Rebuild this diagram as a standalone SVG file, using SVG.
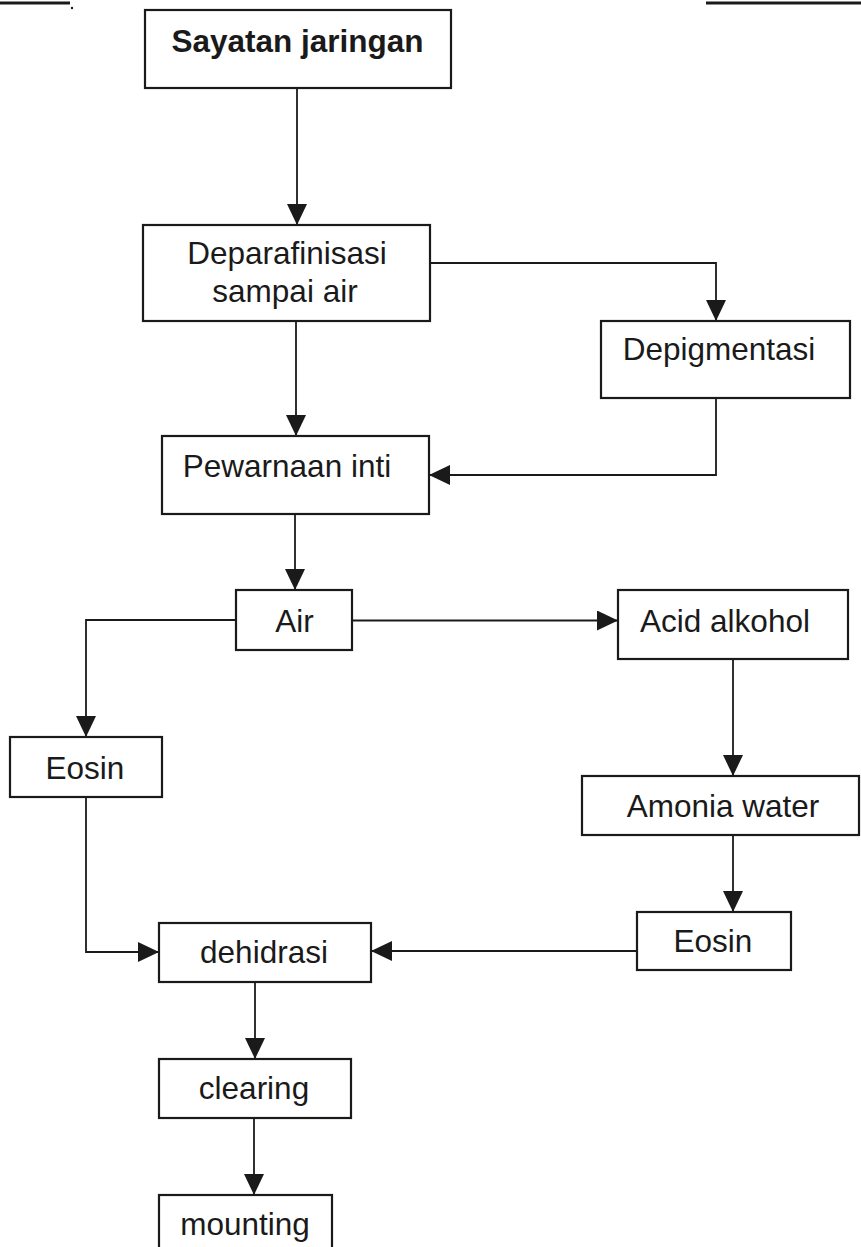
<svg xmlns="http://www.w3.org/2000/svg" width="861" height="1247" viewBox="0 0 861 1247">
<style>
.box{fill:#fff;stroke:#1a1a1a;stroke-width:2.2}
.lbl{font-family:"Liberation Sans",Arial,sans-serif;font-size:31.5px;fill:#1a1a1a;text-anchor:middle}
.bold{font-weight:bold}
.con{fill:none;stroke:#1a1a1a;stroke-width:1.8}
.rule{stroke:#1a1a1a;stroke-width:3}
</style>
<defs>
<marker id="arr" markerUnits="userSpaceOnUse" viewBox="0 0 21 20" markerWidth="21" markerHeight="20" refX="21" refY="10" orient="auto">
<path d="M0,0 L21,10 L0,20 z" fill="#1a1a1a"/>
</marker>
</defs>
<rect width="861" height="1247" fill="#fff"/>
<g id="page-rules">
<line class="rule" x1="0" y1="3" x2="70" y2="3"/>
<circle cx="72" cy="8" r="1.2" fill="#1a1a1a"/>
<line class="rule" x1="706" y1="3" x2="861" y2="3"/>
</g>
<g id="connectors">
<path class="con" d="M297,88 V225" marker-end="url(#arr)"/>
<path class="con" d="M296,321 V436" marker-end="url(#arr)"/>
<path class="con" d="M430,263 H716 V321" marker-end="url(#arr)"/>
<path class="con" d="M716,398 V475 H429" marker-end="url(#arr)"/>
<path class="con" d="M295,514 V590" marker-end="url(#arr)"/>
<path class="con" d="M352,620.5 H618" marker-end="url(#arr)"/>
<path class="con" d="M236,620 H86 V737" marker-end="url(#arr)"/>
<path class="con" d="M733,659 V776" marker-end="url(#arr)"/>
<path class="con" d="M733,835 V912" marker-end="url(#arr)"/>
<path class="con" d="M86,797 V952 H159" marker-end="url(#arr)"/>
<path class="con" d="M637,951 H371" marker-end="url(#arr)"/>
<path class="con" d="M255,982 V1059" marker-end="url(#arr)"/>
<path class="con" d="M254,1118 V1195" marker-end="url(#arr)"/>
</g>
<g id="n-sayatan">
<rect class="box" x="145" y="10" width="306" height="78"/>
<text class="lbl bold" x="297.5" y="52">Sayatan jaringan</text>
</g>
<g id="n-deparafinisasi">
<rect class="box" x="143" y="225" width="287" height="96"/>
<text class="lbl" x="287" y="264">Deparafinisasi</text>
<text class="lbl" x="285" y="302">sampai air</text>
</g>
<g id="n-depigmentasi">
<rect class="box" x="601" y="321" width="249" height="77"/>
<text class="lbl" x="719" y="360">Depigmentasi</text>
</g>
<g id="n-pewarnaan">
<rect class="box" x="162" y="436" width="267" height="78"/>
<text class="lbl" x="287" y="477">Pewarnaan inti</text>
</g>
<g id="n-air">
<rect class="box" x="236" y="590" width="116" height="60"/>
<text class="lbl" x="294.5" y="632">Air</text>
</g>
<g id="n-acid">
<rect class="box" x="618" y="590" width="230" height="69"/>
<text class="lbl" x="725" y="632">Acid alkohol</text>
</g>
<g id="n-eosin-left">
<rect class="box" x="10" y="737" width="152" height="60"/>
<text class="lbl" x="85" y="779">Eosin</text>
</g>
<g id="n-amonia">
<rect class="box" x="582" y="776" width="277" height="59"/>
<text class="lbl" x="723" y="817">Amonia water</text>
</g>
<g id="n-eosin-right">
<rect class="box" x="637" y="912" width="154" height="58"/>
<text class="lbl" x="713" y="952">Eosin</text>
</g>
<g id="n-dehidrasi">
<rect class="box" x="159" y="923" width="212" height="59"/>
<text class="lbl" x="264" y="963">dehidrasi</text>
</g>
<g id="n-clearing">
<rect class="box" x="159" y="1059" width="192" height="59"/>
<text class="lbl" x="254" y="1099">clearing</text>
</g>
<g id="n-mounting">
<rect class="box" x="159" y="1195" width="173" height="70"/>
<text class="lbl" x="245" y="1235">mounting</text>
</g>
</svg>
